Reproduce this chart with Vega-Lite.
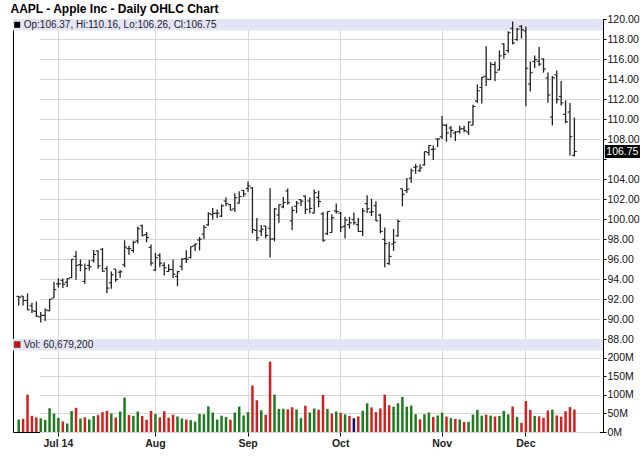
{
"$schema": "https://vega.github.io/schema/vega-lite/v6.json",
"padding": {"left": 10, "top": 2, "right": 0, "bottom": 0},
"title": {"text": "AAPL - Apple Inc - Daily OHLC Chart", "anchor": "start", "font": "Liberation Sans", "fontSize": 12, "fontWeight": "bold", "color": "#000", "offset": -2, "dx": -2},
"bounds": "flush",
"spacing": 0,
"datasets": {"ohlc": [
{"d":"2014-06-18","o":92.27,"h":92.29,"l":91.35,"c":92.18,"v":33.5,"dir":"u"},
{"d":"2014-06-19","o":92.29,"h":92.30,"l":91.34,"c":91.86,"v":35.5,"dir":"d"},
{"d":"2014-06-20","o":91.85,"h":92.55,"l":90.90,"c":90.91,"v":100.9,"dir":"d"},
{"d":"2014-06-23","o":91.32,"h":91.62,"l":90.60,"c":90.83,"v":43.7,"dir":"d"},
{"d":"2014-06-24","o":90.75,"h":91.74,"l":90.19,"c":90.28,"v":39.4,"dir":"d"},
{"d":"2014-06-25","o":90.21,"h":90.70,"l":89.65,"c":90.36,"v":36.9,"dir":"u"},
{"d":"2014-06-26","o":90.37,"h":91.05,"l":89.80,"c":90.90,"v":32.6,"dir":"u"},
{"d":"2014-06-27","o":90.82,"h":92.00,"l":90.77,"c":91.98,"v":64.0,"dir":"u"},
{"d":"2014-06-30","o":92.10,"h":93.73,"l":92.09,"c":92.93,"v":49.6,"dir":"u"},
{"d":"2014-07-01","o":93.52,"h":94.07,"l":93.13,"c":93.52,"v":38.2,"dir":"u"},
{"d":"2014-07-02","o":93.87,"h":94.06,"l":93.09,"c":93.48,"v":28.5,"dir":"d"},
{"d":"2014-07-03","o":93.67,"h":94.10,"l":93.20,"c":94.03,"v":22.9,"dir":"u"},
{"d":"2014-07-07","o":94.14,"h":95.99,"l":94.10,"c":95.97,"v":56.5,"dir":"u"},
{"d":"2014-07-08","o":96.27,"h":96.80,"l":93.92,"c":95.35,"v":65.2,"dir":"d"},
{"d":"2014-07-09","o":95.44,"h":95.95,"l":94.76,"c":95.39,"v":36.4,"dir":"u"},
{"d":"2014-07-10","o":93.76,"h":95.55,"l":93.52,"c":95.04,"v":39.7,"dir":"d"},
{"d":"2014-07-11","o":95.36,"h":95.89,"l":94.86,"c":95.22,"v":34.0,"dir":"u"},
{"d":"2014-07-14","o":95.86,"h":96.89,"l":95.65,"c":96.45,"v":42.8,"dir":"u"},
{"d":"2014-07-15","o":96.80,"h":96.85,"l":95.03,"c":95.32,"v":45.5,"dir":"d"},
{"d":"2014-07-16","o":96.97,"h":97.10,"l":94.74,"c":94.78,"v":53.5,"dir":"d"},
{"d":"2014-07-17","o":95.03,"h":95.28,"l":92.57,"c":93.09,"v":57.3,"dir":"d"},
{"d":"2014-07-18","o":93.62,"h":94.74,"l":93.02,"c":94.43,"v":49.9,"dir":"u"},
{"d":"2014-07-21","o":94.99,"h":95.00,"l":93.72,"c":93.94,"v":39.1,"dir":"d"},
{"d":"2014-07-22","o":94.68,"h":94.89,"l":94.12,"c":94.72,"v":55.2,"dir":"u"},
{"d":"2014-07-23","o":95.42,"h":97.88,"l":95.17,"c":97.19,"v":92.9,"dir":"u"},
{"d":"2014-07-24","o":97.04,"h":97.32,"l":96.42,"c":97.03,"v":45.7,"dir":"d"},
{"d":"2014-07-25","o":96.85,"h":97.84,"l":96.64,"c":97.67,"v":43.5,"dir":"u"},
{"d":"2014-07-28","o":97.82,"h":99.24,"l":97.55,"c":99.02,"v":55.3,"dir":"u"},
{"d":"2014-07-29","o":99.33,"h":99.44,"l":98.25,"c":98.38,"v":43.1,"dir":"d"},
{"d":"2014-07-30","o":98.44,"h":98.70,"l":97.67,"c":98.15,"v":33.0,"dir":"d"},
{"d":"2014-07-31","o":97.16,"h":97.45,"l":95.33,"c":95.60,"v":56.8,"dir":"d"},
{"d":"2014-08-01","o":94.90,"h":96.62,"l":94.81,"c":96.13,"v":48.5,"dir":"u"},
{"d":"2014-08-04","o":96.37,"h":96.58,"l":95.17,"c":95.59,"v":39.4,"dir":"d"},
{"d":"2014-08-05","o":95.36,"h":95.68,"l":94.36,"c":95.12,"v":55.9,"dir":"d"},
{"d":"2014-08-06","o":94.75,"h":95.48,"l":94.71,"c":94.96,"v":38.6,"dir":"d"},
{"d":"2014-08-07","o":94.93,"h":95.95,"l":94.10,"c":94.48,"v":46.7,"dir":"d"},
{"d":"2014-08-08","o":94.26,"h":94.82,"l":93.28,"c":94.74,"v":41.9,"dir":"u"},
{"d":"2014-08-11","o":95.27,"h":96.08,"l":94.84,"c":95.99,"v":36.6,"dir":"u"},
{"d":"2014-08-12","o":96.04,"h":96.88,"l":95.61,"c":95.97,"v":33.8,"dir":"d"},
{"d":"2014-08-13","o":96.15,"h":97.24,"l":96.04,"c":97.24,"v":31.9,"dir":"u"},
{"d":"2014-08-14","o":97.33,"h":97.57,"l":96.80,"c":97.50,"v":28.1,"dir":"u"},
{"d":"2014-08-15","o":97.90,"h":98.19,"l":96.86,"c":97.98,"v":48.9,"dir":"u"},
{"d":"2014-08-18","o":98.49,"h":99.37,"l":97.98,"c":99.16,"v":47.6,"dir":"u"},
{"d":"2014-08-19","o":99.41,"h":100.68,"l":99.32,"c":100.53,"v":69.3,"dir":"u"},
{"d":"2014-08-20","o":100.44,"h":101.09,"l":99.95,"c":100.57,"v":52.7,"dir":"u"},
{"d":"2014-08-21","o":100.57,"h":100.94,"l":100.11,"c":100.58,"v":33.5,"dir":"u"},
{"d":"2014-08-22","o":100.29,"h":101.47,"l":100.19,"c":101.32,"v":44.2,"dir":"u"},
{"d":"2014-08-25","o":101.79,"h":102.17,"l":101.28,"c":101.54,"v":40.3,"dir":"u"},
{"d":"2014-08-26","o":101.42,"h":101.50,"l":100.86,"c":100.89,"v":33.1,"dir":"d"},
{"d":"2014-08-27","o":101.02,"h":102.57,"l":100.70,"c":102.13,"v":52.4,"dir":"u"},
{"d":"2014-08-28","o":101.59,"h":102.78,"l":101.56,"c":102.25,"v":68.5,"dir":"u"},
{"d":"2014-08-29","o":102.86,"h":102.90,"l":102.20,"c":102.50,"v":44.6,"dir":"u"},
{"d":"2014-09-02","o":103.06,"h":103.74,"l":102.72,"c":103.30,"v":53.6,"dir":"u"},
{"d":"2014-09-03","o":103.10,"h":103.20,"l":98.58,"c":98.94,"v":125.4,"dir":"d"},
{"d":"2014-09-04","o":98.85,"h":100.09,"l":97.79,"c":98.12,"v":85.7,"dir":"d"},
{"d":"2014-09-05","o":98.80,"h":99.39,"l":98.31,"c":98.97,"v":58.5,"dir":"u"},
{"d":"2014-09-08","o":99.30,"h":99.31,"l":98.05,"c":98.36,"v":46.3,"dir":"d"},
{"d":"2014-09-09","o":99.08,"h":103.08,"l":96.14,"c":97.99,"v":189.8,"dir":"d"},
{"d":"2014-09-10","o":98.01,"h":101.11,"l":97.76,"c":101.00,"v":100.9,"dir":"u"},
{"d":"2014-09-11","o":100.41,"h":101.44,"l":99.62,"c":101.43,"v":62.4,"dir":"u"},
{"d":"2014-09-12","o":101.21,"h":102.19,"l":101.08,"c":101.66,"v":62.9,"dir":"u"},
{"d":"2014-09-15","o":102.81,"h":103.05,"l":101.44,"c":101.63,"v":61.3,"dir":"d"},
{"d":"2014-09-16","o":99.80,"h":101.26,"l":98.89,"c":100.86,"v":66.8,"dir":"d"},
{"d":"2014-09-17","o":101.27,"h":101.80,"l":100.59,"c":101.58,"v":60.9,"dir":"u"},
{"d":"2014-09-18","o":101.93,"h":101.95,"l":101.31,"c":101.79,"v":37.3,"dir":"u"},
{"d":"2014-09-19","o":102.29,"h":102.35,"l":100.50,"c":100.96,"v":70.9,"dir":"d"},
{"d":"2014-09-22","o":101.80,"h":102.14,"l":100.58,"c":101.06,"v":52.8,"dir":"u"},
{"d":"2014-09-23","o":100.60,"h":102.94,"l":100.54,"c":102.64,"v":63.4,"dir":"u"},
{"d":"2014-09-24","o":102.16,"h":102.85,"l":101.20,"c":101.75,"v":60.2,"dir":"d"},
{"d":"2014-09-25","o":100.51,"h":100.71,"l":97.72,"c":97.87,"v":100.1,"dir":"d"},
{"d":"2014-09-26","o":98.53,"h":100.75,"l":98.40,"c":100.75,"v":62.4,"dir":"u"},
{"d":"2014-09-29","o":98.65,"h":100.44,"l":98.63,"c":100.11,"v":49.8,"dir":"d"},
{"d":"2014-09-30","o":100.81,"h":101.54,"l":100.53,"c":100.75,"v":55.3,"dir":"u"},
{"d":"2014-10-01","o":100.59,"h":100.69,"l":98.70,"c":99.18,"v":51.5,"dir":"d"},
{"d":"2014-10-02","o":99.27,"h":100.22,"l":98.04,"c":99.90,"v":47.8,"dir":"u"},
{"d":"2014-10-03","o":99.44,"h":100.21,"l":99.04,"c":99.62,"v":43.5,"dir":"d"},
{"d":"2014-10-06","o":99.95,"h":100.65,"l":99.42,"c":99.62,"v":37.0,"dir":"f"},
{"d":"2014-10-07","o":99.43,"h":100.12,"l":98.73,"c":98.75,"v":42.1,"dir":"d"},
{"d":"2014-10-08","o":98.76,"h":101.11,"l":98.31,"c":100.80,"v":57.5,"dir":"u"},
{"d":"2014-10-09","o":101.54,"h":102.38,"l":100.61,"c":101.02,"v":77.4,"dir":"u"},
{"d":"2014-10-10","o":100.69,"h":102.03,"l":100.30,"c":100.73,"v":66.3,"dir":"d"},
{"d":"2014-10-13","o":101.33,"h":101.78,"l":99.81,"c":99.81,"v":53.6,"dir":"d"},
{"d":"2014-10-14","o":100.39,"h":100.52,"l":98.57,"c":98.75,"v":63.7,"dir":"d"},
{"d":"2014-10-15","o":97.97,"h":99.15,"l":95.18,"c":97.54,"v":100.9,"dir":"d"},
{"d":"2014-10-16","o":95.55,"h":97.72,"l":95.41,"c":96.26,"v":72.2,"dir":"d"},
{"d":"2014-10-17","o":97.50,"h":99.00,"l":96.81,"c":97.67,"v":68.2,"dir":"u"},
{"d":"2014-10-20","o":98.32,"h":99.96,"l":98.22,"c":99.76,"v":77.5,"dir":"u"},
{"d":"2014-10-21","o":103.02,"h":103.02,"l":101.27,"c":102.47,"v":94.6,"dir":"u"},
{"d":"2014-10-22","o":102.84,"h":104.11,"l":102.60,"c":102.99,"v":68.3,"dir":"u"},
{"d":"2014-10-23","o":104.08,"h":105.05,"l":103.63,"c":104.83,"v":71.1,"dir":"u"},
{"d":"2014-10-24","o":105.18,"h":105.49,"l":104.53,"c":105.22,"v":47.9,"dir":"u"},
{"d":"2014-10-27","o":104.85,"h":105.48,"l":104.70,"c":105.11,"v":34.2,"dir":"d"},
{"d":"2014-10-28","o":105.40,"h":106.74,"l":105.35,"c":106.74,"v":48.0,"dir":"u"},
{"d":"2014-10-29","o":106.65,"h":107.37,"l":106.36,"c":107.34,"v":52.7,"dir":"u"},
{"d":"2014-10-30","o":106.96,"h":107.35,"l":105.90,"c":106.98,"v":40.7,"dir":"d"},
{"d":"2014-10-31","o":108.01,"h":108.04,"l":107.21,"c":108.00,"v":44.6,"dir":"u"},
{"d":"2014-11-03","o":108.22,"h":110.30,"l":108.01,"c":109.40,"v":52.3,"dir":"u"},
{"d":"2014-11-04","o":109.36,"h":109.49,"l":107.72,"c":108.60,"v":41.6,"dir":"d"},
{"d":"2014-11-05","o":109.10,"h":109.30,"l":108.12,"c":108.86,"v":37.4,"dir":"u"},
{"d":"2014-11-06","o":108.60,"h":108.79,"l":107.80,"c":108.70,"v":34.9,"dir":"d"},
{"d":"2014-11-07","o":108.75,"h":109.32,"l":108.55,"c":109.01,"v":33.7,"dir":"u"},
{"d":"2014-11-10","o":109.02,"h":109.33,"l":108.67,"c":108.83,"v":27.2,"dir":"d"},
{"d":"2014-11-11","o":108.70,"h":109.75,"l":108.40,"c":109.70,"v":27.4,"dir":"u"},
{"d":"2014-11-12","o":109.38,"h":111.43,"l":109.37,"c":111.25,"v":46.9,"dir":"u"},
{"d":"2014-11-13","o":111.80,"h":113.45,"l":111.60,"c":112.82,"v":59.5,"dir":"u"},
{"d":"2014-11-14","o":113.15,"h":114.19,"l":111.56,"c":114.18,"v":44.0,"dir":"u"},
{"d":"2014-11-17","o":114.27,"h":117.28,"l":113.30,"c":113.99,"v":46.7,"dir":"d"},
{"d":"2014-11-18","o":113.94,"h":115.69,"l":113.89,"c":115.47,"v":44.2,"dir":"u"},
{"d":"2014-11-19","o":115.44,"h":115.74,"l":113.80,"c":114.67,"v":41.9,"dir":"d"},
{"d":"2014-11-20","o":114.91,"h":116.86,"l":114.85,"c":116.31,"v":43.4,"dir":"u"},
{"d":"2014-11-21","o":117.51,"h":117.57,"l":116.03,"c":116.47,"v":57.2,"dir":"u"},
{"d":"2014-11-24","o":116.85,"h":118.77,"l":116.62,"c":118.63,"v":47.5,"dir":"u"},
{"d":"2014-11-25","o":119.07,"h":119.75,"l":117.45,"c":117.60,"v":68.8,"dir":"d"},
{"d":"2014-11-26","o":117.94,"h":119.10,"l":117.83,"c":119.00,"v":40.8,"dir":"u"},
{"d":"2014-11-28","o":119.27,"h":119.40,"l":118.05,"c":118.93,"v":24.8,"dir":"d"},
{"d":"2014-12-01","o":118.81,"h":119.25,"l":111.27,"c":115.07,"v":83.8,"dir":"d"},
{"d":"2014-12-02","o":113.50,"h":115.75,"l":112.75,"c":114.63,"v":59.3,"dir":"d"},
{"d":"2014-12-03","o":115.75,"h":116.35,"l":115.11,"c":115.93,"v":43.1,"dir":"u"},
{"d":"2014-12-04","o":115.77,"h":117.20,"l":115.29,"c":115.49,"v":42.2,"dir":"d"},
{"d":"2014-12-05","o":115.99,"h":116.08,"l":114.64,"c":115.00,"v":38.3,"dir":"d"},
{"d":"2014-12-08","o":114.10,"h":114.65,"l":111.62,"c":112.40,"v":57.7,"dir":"d"},
{"d":"2014-12-09","o":110.19,"h":114.30,"l":109.35,"c":114.12,"v":60.2,"dir":"u"},
{"d":"2014-12-10","o":114.41,"h":114.85,"l":111.54,"c":111.95,"v":44.6,"dir":"d"},
{"d":"2014-12-11","o":112.26,"h":113.80,"l":111.34,"c":111.62,"v":41.5,"dir":"d"},
{"d":"2014-12-12","o":110.46,"h":111.87,"l":109.58,"c":109.73,"v":56.0,"dir":"d"},
{"d":"2014-12-15","o":110.70,"h":111.60,"l":106.35,"c":108.23,"v":67.2,"dir":"d"},
{"d":"2014-12-16","o":106.37,"h":110.16,"l":106.26,"c":106.75,"v":60.7,"dir":"d"}
]},
"config": {
  "font": "Liberation Sans",
  "view": {"stroke": "#000", "strokeWidth": 1},
  "axis": {"labelFont": "Liberation Sans", "labelFontSize": 10.5, "labelColor": "#111", "tickColor": "#000", "domainColor": "#000", "gridColor": "#d9d9d9", "gridWidth": 1, "tickSize": 3, "labelPadding": 1, "labelOverlap": false, "labelFlush": false}
},
"vconcat": [
{
  "width": 590, "height": 320,
  "layer": [
    {
      "data": {"values": [{}]},
      "mark": {"type": "rect", "color": "#e4e4f7"},
      "encoding": {
        "y": {"datum": 120, "type": "quantitative", "scale": {"domain": [88, 120], "nice": false, "zero": false},
              "axis": {"orient": "right", "title": null, "domain": false, "grid": true, "tickCount": 40, "values": [88,90,92,94,96,98,100,102,104,106,108,110,112,114,116,118,120], "labelExpr": "datum.value == 106 ? '' : format(datum.value, '.2f')"}},
        "y2": {"datum": 118.85}
      }
    },
    {
      "data": {"name": "ohlc"},
      "mark": {"type": "rule", "color": "#222", "strokeWidth": 1.3},
      "encoding": {
        "x": {"field": "d", "type": "ordinal", "bandPosition": 0.5, "scale": {"type": "band", "range": [3.5, 563.6], "paddingInner": 0, "paddingOuter": 0},
              "axis": {"values": ["2014-07-01","2014-08-01","2014-09-02","2014-10-01","2014-11-03","2014-12-01"], "labels": false, "ticks": false, "domain": false, "grid": true, "title": null, "bandPosition": 0.5}},
        "y": {"field": "l", "type": "quantitative"},
        "y2": {"field": "h"}
      }
    },
    {
      "data": {"name": "ohlc"},
      "mark": {"type": "tick", "color": "#222", "size": 2.4, "thickness": 1.1, "xOffset": -1.2, "opacity": 1},
      "encoding": {
        "x": {"field": "d", "type": "ordinal", "bandPosition": 0.5},
        "y": {"field": "o", "type": "quantitative"}
      }
    },
    {
      "data": {"name": "ohlc"},
      "mark": {"type": "tick", "color": "#222", "size": 2.4, "thickness": 1.1, "xOffset": 1.2, "opacity": 1},
      "encoding": {
        "x": {"field": "d", "type": "ordinal", "bandPosition": 0.5},
        "y": {"field": "c", "type": "quantitative"}
      }
    },
    {
      "data": {"values": [{}]},
      "mark": {"type": "point", "shape": "square", "size": 36, "filled": true, "color": "#000", "opacity": 1, "xOffset": -1.5},
      "encoding": {
        "x": {"datum": "2014-06-18", "type": "ordinal", "bandPosition": 0.5},
        "y": {"datum": 119.42, "type": "quantitative"}
      }
    },
    {
      "data": {"values": [{}]},
      "mark": {"type": "text", "text": "Op:106.37, Hi:110.16, Lo:106.26, Cl:106.75", "align": "left", "baseline": "middle", "fontSize": 10, "color": "#222", "dx": 5},
      "encoding": {
        "x": {"datum": "2014-06-18", "type": "ordinal", "bandPosition": 0.5},
        "y": {"datum": 119.42, "type": "quantitative"}
      }
    },
    {
      "data": {"values": [{}]},
      "mark": {"type": "point", "shape": "M-2.7,-1H2.7V1H-2.7Z", "size": 169, "filled": true, "color": "#000", "opacity": 1, "xOffset": 48},
      "encoding": {
        "x": {"datum": "2014-12-16", "type": "ordinal", "bandPosition": 0.5},
        "y": {"datum": 106.75, "type": "quantitative"}
      }
    },
    {
      "data": {"values": [{}]},
      "mark": {"type": "text", "text": "106.75", "align": "center", "baseline": "middle", "fontSize": 10.5, "color": "#fff", "xOffset": 48},
      "encoding": {
        "x": {"datum": "2014-12-16", "type": "ordinal", "bandPosition": 0.5},
        "y": {"datum": 106.75, "type": "quantitative"}
      }
    }
  ]
},
{
  "width": 590, "height": 93,
  "layer": [
    {
      "data": {"values": [{}]},
      "mark": {"type": "rect", "color": "#e4e4f7"},
      "encoding": {
        "y": {"datum": 251, "type": "quantitative", "scale": {"domain": [0, 251], "nice": false, "zero": true},
              "axis": {"orient": "right", "title": null, "domain": false, "grid": true, "tickCount": 20, "values": [0, 50, 100, 150, 200], "labelExpr": "datum.value + 'M'"}},
        "y2": {"datum": 220}
      }
    },
    {
      "data": {"name": "ohlc"},
      "mark": {"type": "bar", "width": 2.5},
      "encoding": {
        "x": {"field": "d", "type": "ordinal", "scale": {"type": "band", "range": [3.5, 563.6], "paddingInner": 0, "paddingOuter": 0},
              "axis": {"values": ["2014-07-01","2014-08-01","2014-09-02","2014-10-01","2014-11-03","2014-12-01"], "labelExpr": "datum.value == '2014-07-01' ? 'Jul 14' : datum.value == '2014-08-01' ? 'Aug' : datum.value == '2014-09-02' ? 'Sep' : datum.value == '2014-10-01' ? 'Oct' : datum.value == '2014-11-03' ? 'Nov' : 'Dec'", "labelAngle": 0, "labelFontWeight": "bold", "labelFontSize": 10.5, "labelColor": "#222", "grid": true, "domain": false, "title": null, "bandPosition": 0.5, "tickSize": 4, "labelPadding": 2}},
        "y": {"field": "v", "type": "quantitative"},
        "color": {"field": "dir", "type": "nominal", "scale": {"domain": ["u", "d", "f"], "range": ["#1e7a1e", "#d21f1f", "#0b0b70"]}, "legend": null}
      }
    },
    {
      "data": {"values": [{}]},
      "mark": {"type": "point", "shape": "square", "size": 36, "filled": true, "color": "#cc1111", "stroke": "#333", "strokeWidth": 0.5, "opacity": 1, "xOffset": -1.5},
      "encoding": {
        "x": {"datum": "2014-06-18", "type": "ordinal", "bandPosition": 0.5},
        "y": {"datum": 236, "type": "quantitative"}
      }
    },
    {
      "data": {"values": [{}]},
      "mark": {"type": "text", "text": "Vol: 60,679,200", "align": "left", "baseline": "middle", "fontSize": 10, "color": "#222", "dx": 5},
      "encoding": {
        "x": {"datum": "2014-06-18", "type": "ordinal", "bandPosition": 0.5},
        "y": {"datum": 236, "type": "quantitative"}
      }
    }
  ]
}
]
}
